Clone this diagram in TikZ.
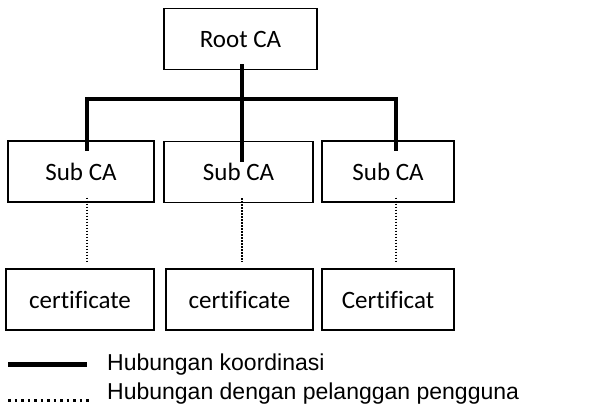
\documentclass[tikz,border=0pt]{standalone}
\usepackage{fontspec}
\setmainfont{Carlito}[Ligatures=NoCommon]
\newfontfamily\legendfont{Liberation Sans}
\usetikzlibrary{calc}

\tikzset{
  cabox/.style={draw, line width=1.2pt, inner sep=0pt, minimum height=61pt,
    font=\fontsize{25}{30}\selectfont},
  koord/.style={line width=4.5pt},
  pelanggan/.style={line width=1.3pt, dash pattern=on 1.4pt off 1.6pt}
}

\begin{document}
\begin{tikzpicture}[x=1pt,y=-1pt]
  \useasboundingbox (0,0) rectangle (600,413);
  \node[cabox, minimum width=153pt] (root) at (240.5,39) {Root CA};
  \node[cabox, minimum width=146pt] (sub1) at (81,171.5) {Sub CA};
  \node[cabox, minimum width=149pt] (sub2) at (238.5,172) {Sub CA};
  \node[cabox, minimum width=132pt] (sub3) at (388,171.5) {Sub CA};
  \node[cabox, minimum width=148pt] (cert1) at (80,299.5) {certificate};
  \node[cabox, minimum width=147pt] (cert2) at (239.5,299.5) {certificate};
  \node[cabox, minimum width=132pt] (cert3) at (388,299.5) {Certificat};
  % garis koordinasi
  \coordinate (busL) at (87,99);
  \coordinate (busR) at (396,99);
  \draw[koord] (busL) -- (busR);
  \draw[koord] ([xshift=1.5pt,yshift=6pt]root.south) -- ([xshift=3.5pt,yshift=-21pt]sub2.north);
  \draw[koord] ([yshift=2.2pt]busL) -- ([xshift=6pt,yshift=-11pt]sub1.north);
  \draw[koord] ([yshift=2.2pt]busR) -- ([xshift=8pt,yshift=-11pt]sub3.north);
  % garis pelanggan
  \draw[pelanggan] ([xshift=6pt,yshift=5pt]sub1.south) coordinate (d1) -- ([yshift=7pt]d1 |- cert1.north);
  \draw[pelanggan] ([xshift=3.5pt,yshift=5pt]sub2.south) coordinate (d2) -- ([yshift=7pt]d2 |- cert2.north);
  \draw[pelanggan] ([xshift=8pt,yshift=5pt]sub3.south) coordinate (d3) -- ([yshift=7pt]d3 |- cert3.north);
  % legenda
  \coordinate (lk1) at (8,364);
  \coordinate (lk2) at (87,364);
  \draw[line width=5pt] (lk1) -- (lk2);
  \node[anchor=base west, inner sep=0pt, font=\legendfont\fontsize{23}{27}\selectfont] (tk) at (107,370) {Hubungan koordinasi};
  \coordinate (lp1) at (8,400);
  \coordinate (lp2) at (90,400);
  \draw[line width=3pt, dash pattern=on 2.5pt off 4pt] (lp1) -- (lp2);
  \node[anchor=base west, inner sep=0pt, font=\legendfont\fontsize{23}{27}\selectfont] (tp) at (107,399) {Hubungan dengan pelanggan pengguna};
\end{tikzpicture}
\end{document}
